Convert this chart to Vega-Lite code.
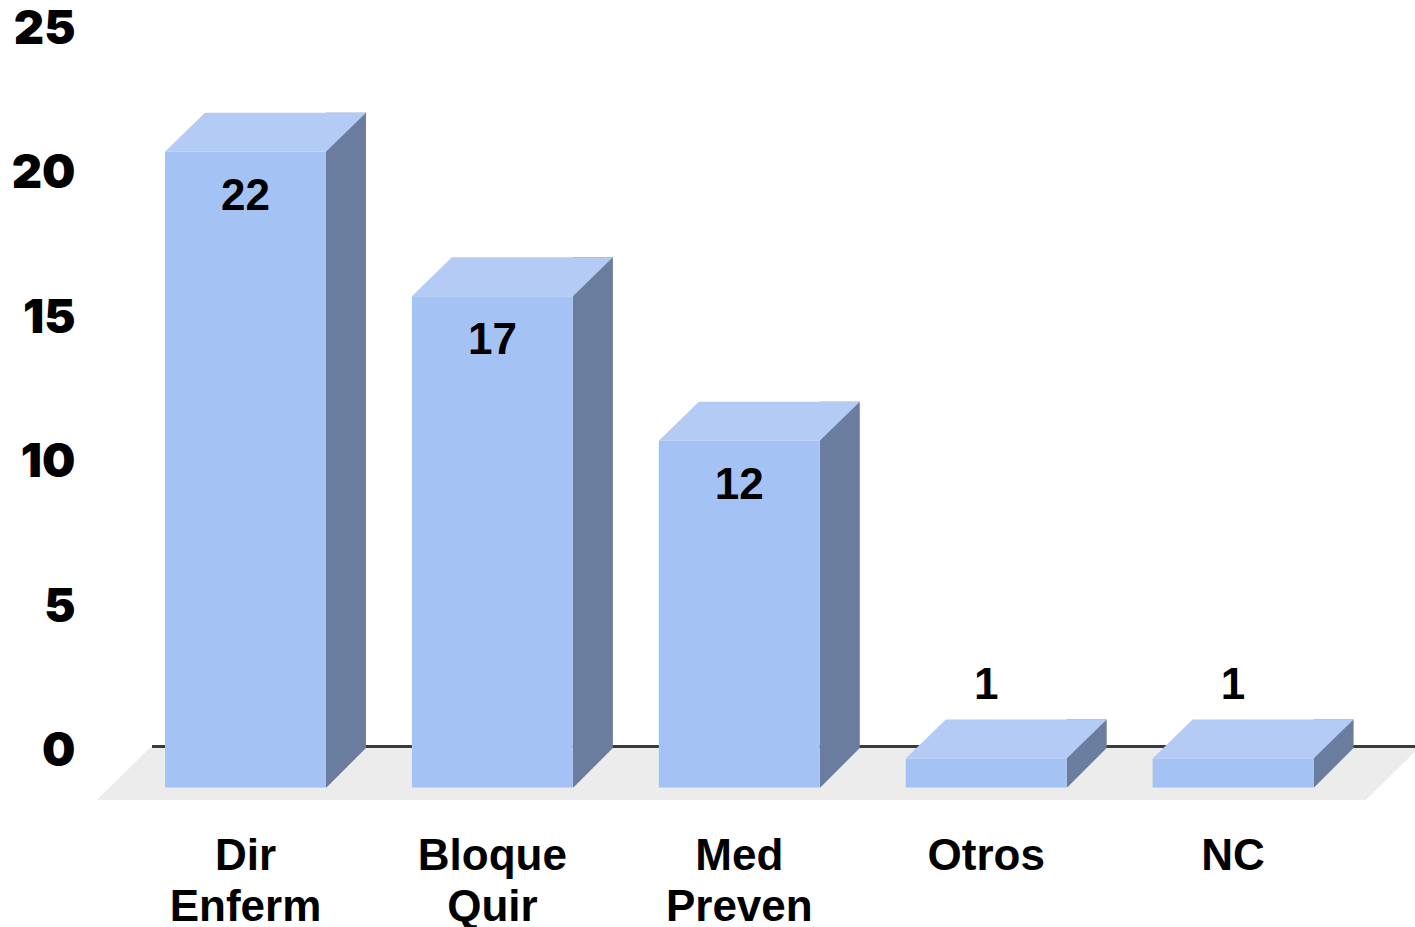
{
  "$schema": "https://vega.github.io/schema/vega-lite/v6.json",
  "width": 1263,
  "height": 722.5,
  "autosize": {"type": "none"},
  "padding": {"left": 152, "top": 26, "right": 0, "bottom": 178.5},
  "background": "#ffffff",
  "config": {"view": {"stroke": null}},
  "datasets": {
    "servicios": [
      {"servicio": "Dir Enferm", "n": 22},
      {"servicio": "Bloque Quir", "n": 17},
      {"servicio": "Med Preven", "n": 12},
      {"servicio": "Otros", "n": 1},
      {"servicio": "NC", "n": 1}
    ]
  },
  "layer": [
    {
      "data": {"values": [{}]},
      "mark": {
        "type": "point",
        "shape": "M-1,0.0401L0.9184,0.0401L1,-0.0401L-0.9184,-0.0401Z",
        "size": 1750329,
        "filled": true,
        "opacity": 1,
        "color": "#ececec",
        "strokeWidth": 0,
        "xOffset": 19,
        "yOffset": 25
      },
      "encoding": {
        "x": {
          "datum": "Med Preven",
          "type": "nominal",
          "scale": {
            "domain": ["Dir Enferm", "Bloque Quir", "Med Preven", "Otros", "NC"],
            "paddingInner": 0.348,
            "paddingOuter": 0.2317,
            "align": 0.1136
          },
          "axis": {
            "title": null,
            "domain": false,
            "ticks": false,
            "labelAngle": 0,
            "labelFont": "Liberation Sans",
            "labelFontWeight": "bold",
            "labelFontSize": 44,
            "labelColor": "#000000",
            "labelPadding": 86,
            "labelBaseline": "top",
            "labelLineHeight": 51,
            "labelExpr": "split(datum.label, ' ')"
          }
        },
        "y": {
          "datum": 0,
          "type": "quantitative",
          "scale": {"domain": [0, 25], "nice": false, "zero": true},
          "axis": {
            "title": null,
            "values": [0, 5, 10, 15, 20, 25],
            "domain": false,
            "ticks": false,
            "grid": false,
            "labelFont": "Inter",
            "labelFontWeight": 900,
            "labelFontSize": 47,
            "labelColor": "#000000",
            "labelPadding": 77,
            "labelOffset": 3
          }
        }
      }
    },
    {
      "data": {"values": [{}]},
      "mark": {"type": "rule", "color": "#3a3a3a", "strokeWidth": 3, "yOffset": -2},
      "encoding": {
        "y": {"datum": 0, "type": "quantitative"}
      }
    },
    {
      "data": {"name": "servicios"},
      "mark": {
        "type": "bar",
        "width": 40,
        "xOffset": 100.5,
        "color": "#6a7d9f",
        "y2Offset": 39
      },
      "encoding": {
        "x": {"field": "servicio", "type": "nominal"},
        "y": {"field": "n", "type": "quantitative"},
        "y2": {"datum": 0}
      }
    },
    {
      "data": {"name": "servicios"},
      "mark": {
        "type": "point",
        "shape": "M-1,1L1,-1L1.1,-1L1.1,1.1L-1,1.1Z",
        "size": 1600,
        "filled": true,
        "opacity": 1,
        "color": "#ececec",
        "strokeWidth": 0,
        "xOffset": 100.5,
        "yOffset": 19.5
      },
      "encoding": {
        "x": {"field": "servicio", "type": "nominal"},
        "y": {"datum": 0, "type": "quantitative"}
      }
    },
    {
      "data": {"name": "servicios"},
      "mark": {
        "type": "bar",
        "color": "#a4c2f4",
        "yOffset": 39,
        "y2Offset": 39
      },
      "encoding": {
        "x": {"field": "servicio", "type": "nominal"},
        "y": {"field": "n", "type": "quantitative"},
        "y2": {"datum": 0}
      }
    },
    {
      "data": {"name": "servicios"},
      "mark": {
        "type": "point",
        "shape": "M-1,0.194L0.602,0.194L1,-0.194L-0.602,-0.194Z",
        "size": 40401,
        "filled": true,
        "opacity": 1,
        "color": "#b4ccf5",
        "strokeWidth": 0,
        "xOffset": 20,
        "yOffset": 19.5
      },
      "encoding": {
        "x": {"field": "servicio", "type": "nominal"},
        "y": {"field": "n", "type": "quantitative"}
      }
    },
    {
      "data": {"name": "servicios"},
      "transform": [{"filter": "datum.n >= 5"}],
      "mark": {
        "type": "text",
        "font": "Liberation Sans",
        "fontWeight": "bold",
        "fontSize": 44,
        "color": "#000000",
        "baseline": "middle",
        "yOffset": 84
      },
      "encoding": {
        "x": {"field": "servicio", "type": "nominal"},
        "y": {"field": "n", "type": "quantitative"},
        "text": {"field": "n", "type": "quantitative"}
      }
    },
    {
      "data": {"name": "servicios"},
      "transform": [{"filter": "datum.n < 5"}],
      "mark": {
        "type": "text",
        "font": "Liberation Sans",
        "fontWeight": "bold",
        "fontSize": 44,
        "color": "#000000",
        "baseline": "middle",
        "yOffset": -34
      },
      "encoding": {
        "x": {"field": "servicio", "type": "nominal"},
        "y": {"field": "n", "type": "quantitative"},
        "text": {"field": "n", "type": "quantitative"}
      }
    }
  ]
}
